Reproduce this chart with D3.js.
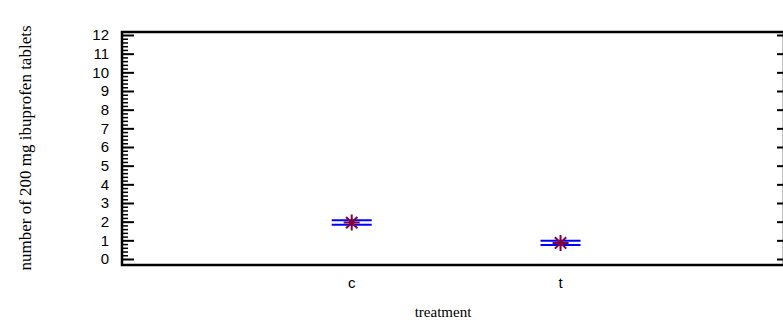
<!DOCTYPE html>
<html>
<head>
<meta charset="utf-8">
<script src="https://cdn.jsdelivr.net/npm/d3@7"></script>
<style>
	body { margin: 0; background: #fff; }
	svg { display: block; }
	.tick text { font-family: "Liberation Sans", Arial, sans-serif; }
	.title { font-family: "Liberation Serif", "Times New Roman", serif; fill: #000; }
</style>
</head>
<body>
<div id="chart"></div>
<script>
// data
const categories = ["c", "t"];
const means = [1.95, 0.86];
const upper = [2.07, 0.98];
const lower = [1.84, 0.75];
const yTicks = [0, 1, 2, 3, 4, 5, 6, 7, 8, 9, 10, 11, 12];

const W = 783, H = 327;
let frame = {left: 122, right: 784, top: 32, bottom: 265};

let svg = d3.select("#chart").append("svg")
	.attr("width", W)
	.attr("height", H);

// x uses the category index (c = 1, t = 2)
let xScale = d3.scaleLinear()
	.domain([-0.1, 3.07])
	.range([frame.left, frame.right]);

let yScale = d3.scaleLinear()
	.domain([0, 12])
	.range([259, 35]);

// left axis, major ticks pointing inward
let yAxis = svg.append("g")
	.attr("transform", "translate(" + frame.left + ",0)")
	.call(d3.axisRight(yScale).tickValues(yTicks).tickSize(12).tickFormat(""));
yAxis.select(".domain").remove();
yAxis.selectAll("line").attr("stroke", "#000").attr("stroke-width", 2);

// minor ticks every 0.2
let minor = d3.range(0, 12.01, 0.2).filter(v => Math.abs(v - Math.round(v)) > 0.01);
svg.append("g")
	.attr("transform", "translate(" + frame.left + ",0)")
	.call(d3.axisRight(yScale).tickValues(minor).tickSize(6).tickFormat(""))
	.call(g => g.select(".domain").remove())
	.selectAll("line").attr("stroke", "#000").attr("stroke-width", 1.5);

// tick labels on the left, outside the frame
svg.append("g").selectAll("text")
	.data(yTicks)
	.enter().append("text")
	.attr("x", 109)
	.attr("y", d => yScale(d))
	.attr("dy", "0.36em")
	.attr("text-anchor", "end")
	.style("font-family", "'Liberation Sans', Arial, sans-serif")
	.style("font-size", "15px")
	.text(d => d);

// right side major ticks, inward
let yRight = svg.append("g")
	.attr("transform", "translate(" + frame.right + ",0)")
	.call(d3.axisLeft(yScale).tickValues(yTicks).tickSize(7).tickFormat(""));
yRight.select(".domain").remove();
yRight.selectAll("line").attr("stroke", "#000").attr("stroke-width", 2);

// frame
svg.append("rect")
	.attr("x", frame.left)
	.attr("y", frame.top)
	.attr("width", frame.right - frame.left)
	.attr("height", frame.bottom - frame.top)
	.attr("fill", "none")
	.attr("stroke", "#000")
	.attr("stroke-width", 2.5);

// category labels
svg.append("g").selectAll("text")
	.data(categories)
	.enter().append("text")
	.attr("x", (d, i) => xScale(i + 1))
	.attr("y", 288)
	.attr("text-anchor", "middle")
	.style("font-family", "'Liberation Sans', Arial, sans-serif")
	.style("font-size", "15px")
	.text(d => d);

// blue lines (upper and lower)
let half = 20;
[upper, lower].forEach(arr => {
	svg.append("g").selectAll("line")
		.data(arr)
		.enter().append("line")
		.attr("x1", (d, i) => xScale(i + 1) - half)
		.attr("x2", (d, i) => xScale(i + 1) + half)
		.attr("y1", d => yScale(d))
		.attr("y2", d => yScale(d))
		.attr("stroke", "#0000ff")
		.attr("stroke-width", 2);
});

// asterisk at the mean
let star = d3.symbol().type(d3.symbolAsterisk = {
	draw(ctx, size) {
		let r = Math.sqrt(size) / 2;
		let d = r * Math.SQRT1_2;
		ctx.moveTo(0, -r); ctx.lineTo(0, r);
		ctx.moveTo(-r, 0); ctx.lineTo(r, 0);
		ctx.moveTo(-d, -d); ctx.lineTo(d, d);
		ctx.moveTo(-d, d); ctx.lineTo(d, -d);
	}
}).size(256);

svg.append("g").selectAll("path")
	.data(means)
	.enter().append("path")
	.attr("transform", (d, i) => "translate(" + xScale(i + 1) + "," + yScale(d) + ")")
	.attr("d", star)
	.attr("fill", "none")
	.attr("stroke", "#800040")
	.attr("stroke-width", 2);

// axis titles
svg.append("text")
	.attr("class", "title")
	.attr("x", 443)
	.attr("y", 317)
	.attr("text-anchor", "middle")
	.style("font-size", "15px")
	.text("treatment");

svg.append("text")
	.attr("class", "title")
	.attr("transform", "translate(31,148) rotate(-90)")
	.attr("text-anchor", "middle")
	.style("font-size", "17px")
	.text("number of 200 mg ibuprofen tablets");
</script>
</body>
</html>
